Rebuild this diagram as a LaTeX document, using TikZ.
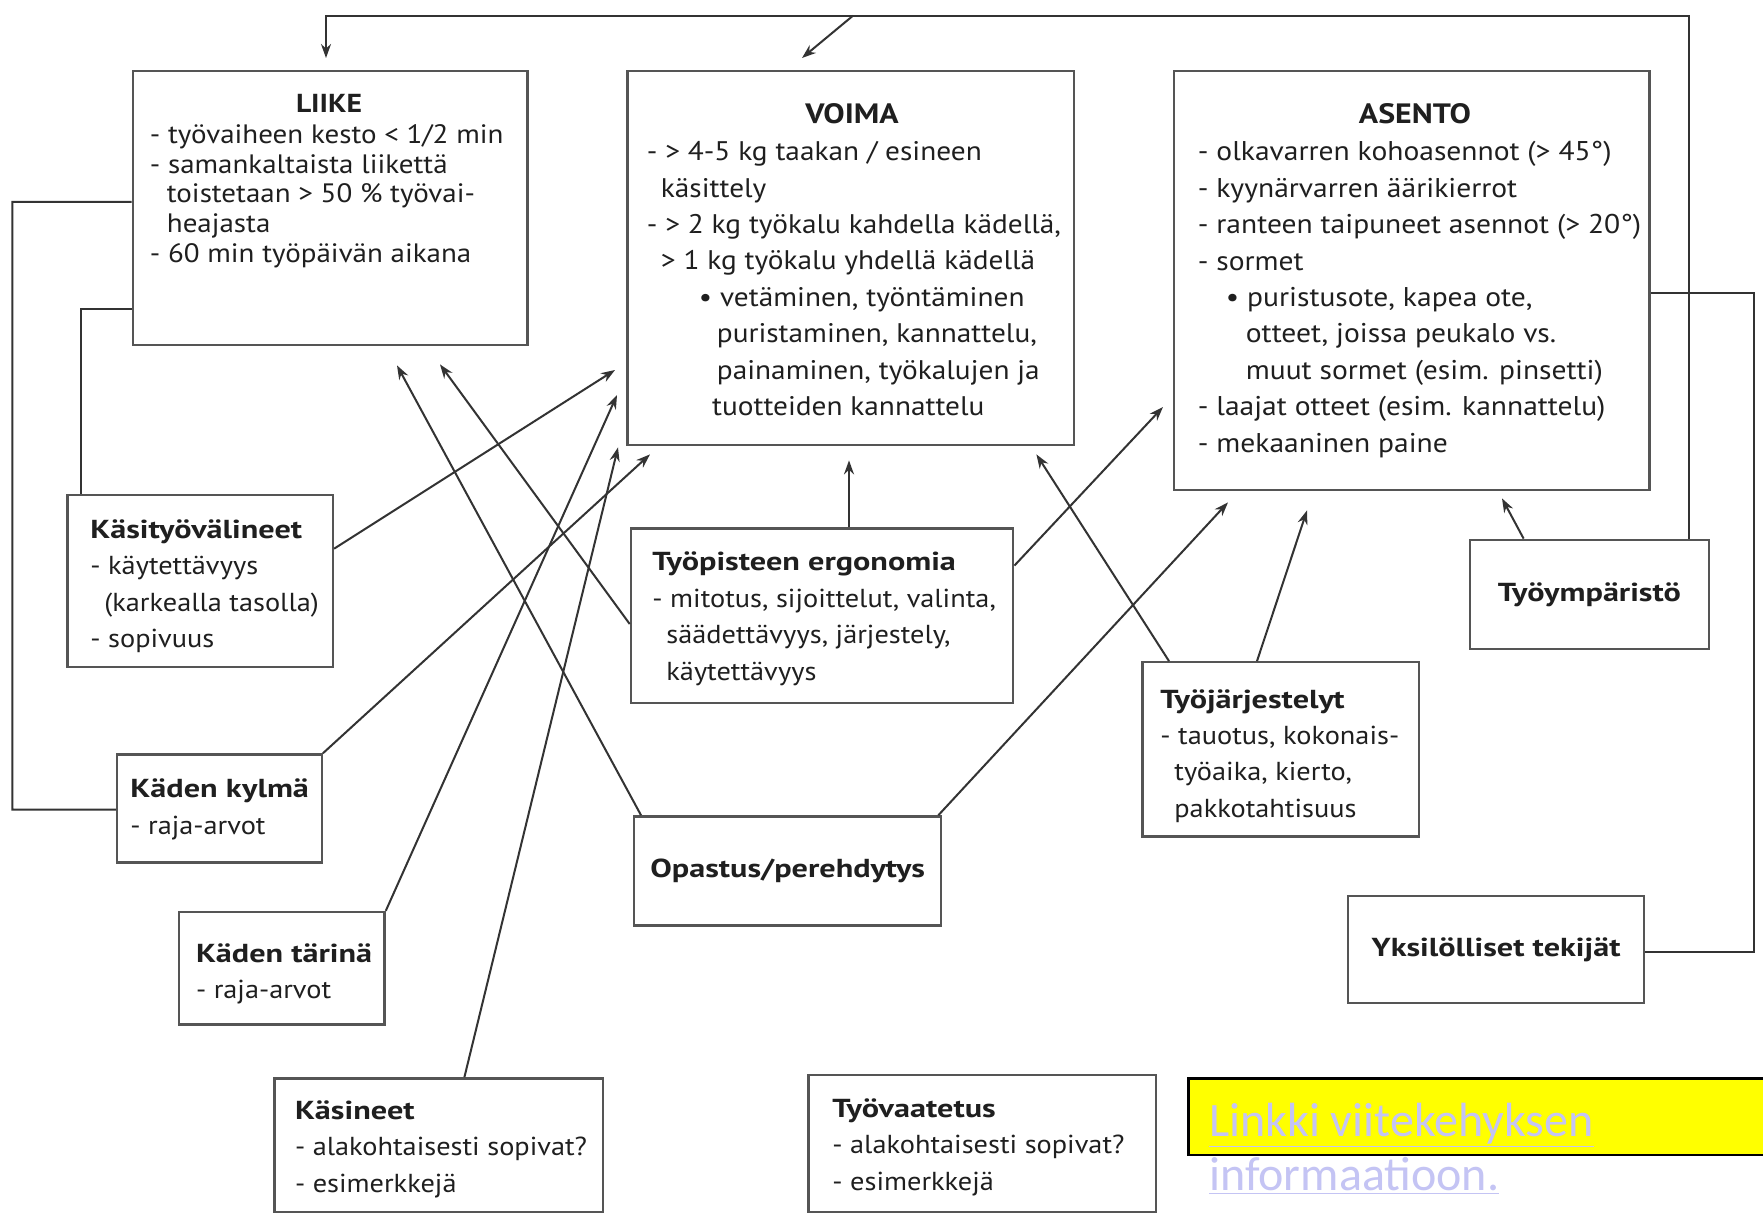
\documentclass[tikz,border=0pt]{standalone}
\usepackage{fontspec}
\setmainfont{PT Sans}[FakeStretch=1.09]
\newfontfamily\hd{PT Sans}[FakeStretch=1.24]
\newfontfamily\hdm{PT Sans}[FakeStretch=1.14]
\newfontfamily\carl{Carlito}
\usetikzlibrary{calc,arrows.meta}
\definecolor{lnc}{HTML}{333333}
\definecolor{bxc}{HTML}{555555}
\definecolor{lnk}{HTML}{C4C4F4}
\definecolor{ylw}{HTML}{FFFF00}
\newcommand{\hdg}[1]{{\hd\bfseries #1}}
\tikzset{
  box/.style={draw=bxc, line width=1.2pt, inner sep=0pt, anchor=north west, fill=white},
  txt/.style={anchor=north west, inner sep=0pt, align=left, text=black!88},
  smallf/.style={font=\fontsize{13}{18.2}\selectfont},
  headf/.style={anchor=base, inner sep=0pt, text=black!88, font=\hdm\fontsize{14}{16}\selectfont\bfseries},
  onef/.style={align=center, text=black!88, font=\hd\fontsize{13}{16}\selectfont\bfseries},
  con/.style={draw=lnc, line width=1pt},
  arr/.style={con, -{Stealth[length=7pt,width=5pt]}},
}
\begin{document}
\begin{tikzpicture}[x=0.5pt,y=-0.5pt]
\fill[white] (0,0) rectangle (1763,1213);
\useasboundingbox (0,0) rectangle (1763,1213);

% boxes
\node[box, minimum width=197.3pt, minimum height=137.2pt] (liike) at (131.6,69.7) {};
\node[box, minimum width=223.2pt, minimum height=187.15pt] (voima) at (626.3,69.7) {};
\node[box, minimum width=237.8pt, minimum height=209.65pt] (asento) at (1172.8,69.7) {};
\node[box, minimum width=132.7pt, minimum height=86pt] (kasity) at (66.3,493.6) {};
\node[box, minimum width=191.15pt, minimum height=87.15pt] (tyopiste) at (629.7,527.3) {};
\node[box, onef, minimum width=119.75pt, minimum height=54.55pt] (tyoymp) at (1468.5,538.6) {Työympäristö};
\node[box, minimum width=138.3pt, minimum height=87.15pt] (tyojarj) at (1141.3,661.1) {};
\node[box, minimum width=102.35pt, minimum height=54pt] (kylma) at (115.8,753.3) {};
\node[box, onef, minimum width=153.5pt, minimum height=54.55pt] (opastus) at (633,815.2) {Opastus/perehdytys};
\node[box, onef, minimum width=147.9pt, minimum height=53.4pt] (yksil) at (1347,895) {Yksilölliset tekijät};
\node[box, minimum width=102.85pt, minimum height=56.2pt] (tarina) at (177.7,910.8) {};
\node[box, minimum width=164.2pt, minimum height=66.9pt] (kasineet) at (273.2,1077.2) {};
\node[box, minimum width=173.75pt, minimum height=68.6pt] (vaatetus) at (807.3,1073.8) {};
\node[draw=black, line width=1.3pt, fill=ylw, anchor=north west, inner sep=0pt, minimum width=290.3pt, minimum height=38.25pt] (ybox) at (1187.4,1077.2) {};

% texts
\node[headf, font=\hdm\fontsize{13}{15}\selectfont\bfseries] (liikeh) at (329,112.9) {LIIKE};
\node[txt, font=\fontsize{13.3}{14.8}\selectfont] (liiket) at (149.5,122.6) {\strut- työvaiheen kesto < 1/2 min\\
- samankaltaista liikettä\\
\hspace*{8.5pt}toistetaan > 50 \% työvai-\\
\hspace*{8.5pt}heajasta\\
- 60 min työpäivän aikana};

\node[headf] (voimah) at (852,123.3) {VOIMA};
\node[txt, font=\fontsize{13.45}{18.2}\selectfont] (voimat) at (646.5,134.9) {\strut- > 4-5 kg taakan / esineen\\
\hspace*{7pt}käsittely\\
- > 2 kg työkalu kahdella kädellä,\\
\hspace*{7pt}> 1 kg työkalu yhdellä kädellä\\
\hspace*{26pt}•\hspace*{4pt}vetäminen, työntäminen\\
\hspace*{35pt}puristaminen, kannattelu,\\
\hspace*{35pt}painaminen, työkalujen ja\\
\hspace*{32.6pt}tuotteiden kannattelu};

\node[headf] (asentoh) at (1415,123.3) {ASENTO};
\node[txt, font=\fontsize{13.55}{18.2}\selectfont] (asentot) at (1197.5,135) {\strut- olkavarren kohoasennot (> 45°)\\
- kyynärvarren äärikierrot\\
- ranteen taipuneet asennot (> 20°)\\
- sormet\\
\hspace*{14pt}•\hspace*{4pt}puristusote, kapea ote,\\
\hspace*{24pt}otteet, joissa peukalo vs.\\
\hspace*{24pt}muut sormet (esim. pinsetti)\\
- laajat otteet (esim. kannattelu)\\
- mekaaninen paine};

\node[txt, smallf] (kasityt) at (90,512.4) {\strut\hdg{Käsityövälineet}\\
- käytettävyys\\
\hspace*{7pt}(karkealla tasolla)\\
- sopivuus};
\node[txt, smallf] (tyopistet) at (652,545) {\strut\hdg{Työpisteen ergonomia}\\
- mitotus, sijoittelut, valinta,\\
\hspace*{7pt}säädettävyys, järjestely,\\
\hspace*{7pt}käytettävyys};
\node[txt, smallf] (tyojarjt) at (1160,682.2) {\strut\hdg{Työjärjestelyt}\\
- tauotus, kokonais-\\
\hspace*{7pt}työaika, kierto,\\
\hspace*{7pt}pakkotahtisuus};
\node[txt, smallf] (kylmat) at (130,772) {\strut\hdg{Käden kylmä}\\
- raja-arvot};
\node[txt, smallf] (tarinat) at (195.6,936.3) {\strut\hdg{Käden tärinä}\\
- raja-arvot};
\node[txt, smallf] (kasineett) at (294.6,1093.7) {\strut\hdg{Käsineet}\\
- alakohtaisesti sopivat?\\
- esimerkkejä};
\node[txt, smallf] (vaatetust) at (832,1091.5) {\strut\hdg{Työvaatetus}\\
- alakohtaisesti sopivat?\\
- esimerkkejä};

\node[anchor=north west, inner sep=0pt, align=left, text=lnk, font=\carl\fontsize{24}{27}\selectfont] (link) at (1208.7,1097.9) {\strut\underline{Linkki viitekehyksen}\\
\underline{informaatioon.}};

% free ends of loops
\coordinate (tl) at (326,15.7);
\coordinate (tv) at (853,15.7);
\coordinate (ol) at (12.4,809.6);
\coordinate (rl) at (1753.5,952);

% loops
\draw[arr] ($(tyoymp.north west)+(220.5,0)$) |- (tl) -- ($(liike.north west)+(194.4,-11.7)$);
\draw[arr] (tv) -- ($(voima.north west)+(175.7,-11.7)$);
\draw[con] ($(liike.north west)+(0,132.3)$) -| (ol) -- ($(kylma.north west)+(0,56.3)$);
\draw[con] ($(liike.north west)+(0,239.3)$) -| ($(kasity.north west)+(14.7,0)$);
\draw[con] ($(asento.north east)+(0,223)$) -| (rl) -- ($(yksil.north east)+(0,57)$);

% arrows
\draw[arr] ($(kasity.north east)+(0,55.1)$) -- ($(voima.north west)+(-11.3,300.3)$);
\draw[arr] (kylma.north east) -- ($(voima.south west)+(23.7,8)$);
\draw[arr] (tarina.north east) -- ($(voima.north west)+(-9.3,325.3)$);
\draw[arr] ($(kasineet.north west)+(191.2,0)$) -- ($(voima.south west)+(-8.3,1)$);
\draw[arr] ($(opastus.north west)+(8,0)$) -- ($(liike.south west)+(265.4,18.9)$);
\draw[arr] ($(tyopiste.north west)+(0,96.7)$) -- ($(liike.south west)+(308.4,17.9)$);
\draw[arr] ($(tyopiste.north west)+(219.3,0)$) -- ($(voima.south west)+(222.7,14)$);
\draw[arr] ($(tyopiste.north east)+(0,38.3)$) -- ($(asento.north west)+(-9.8,337.3)$);
\draw[arr] ($(opastus.north east)+(-4,0)$) -- ($(asento.south west)+(55.2,11)$);
\draw[arr] ($(tyojarj.north west)+(27.7,0)$) -- ($(voima.south east)+(-38.7,8)$);
\draw[arr] ($(tyojarj.north west)+(115.7,0)$) -- ($(asento.south west)+(134.2,19)$);
\draw[arr] ($(tyoymp.north west)+(55.1,0)$) -- ($(asento.south west)+(329.2,7)$);
\end{tikzpicture}
\end{document}
